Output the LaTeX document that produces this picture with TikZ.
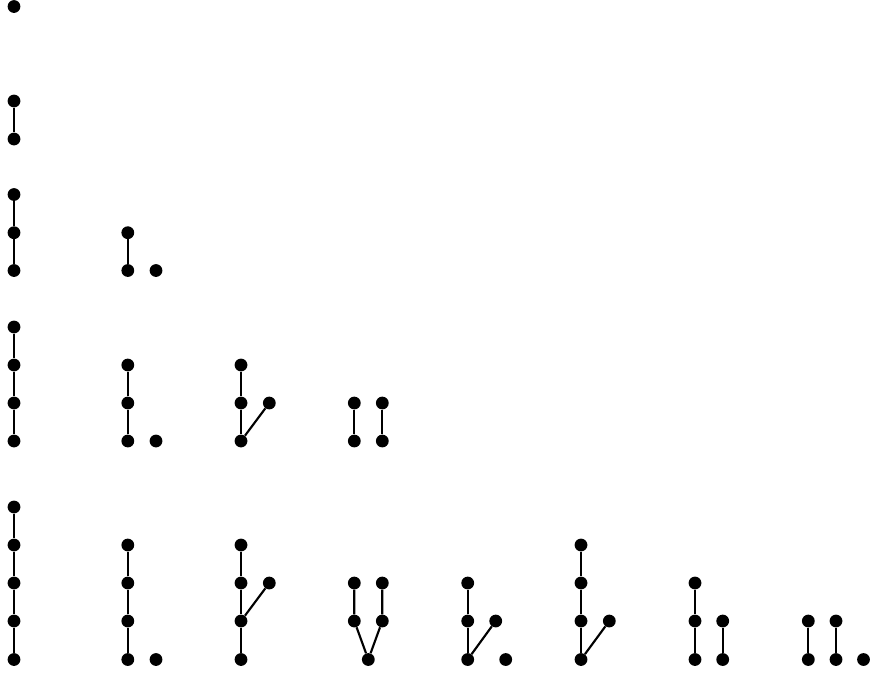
\documentclass[tikz,border=0pt]{standalone}
\begin{document}
\begin{tikzpicture}[x=0.75pt,y=-0.75pt,
  dot/.style={circle,fill=black,inner sep=0pt,minimum size=9.6pt},
  edge/.style={draw=black,line width=1.6pt}]
\useasboundingbox (0,0) rectangle (870,672);
% Row 1
\node[dot] (a1) at (14,6.5) {};
% Row 2
\node[dot] (b1) at (14,101) {};
\node[dot] (b2) at (14,139) {};
\draw[edge] (b1) -- (b2);
% Row 3
\node[dot] (c1) at (14,194.5) {};
\node[dot] (c2) at (14,232.7) {};
\node[dot] (c3) at (14,270.5) {};
\draw[edge] (c1) -- (c2) -- (c3);
\node[dot] (c4) at (127.8,232.7) {};
\node[dot] (c5) at (127.8,270.5) {};
\node[dot] (c6) at (156,270.5) {};
\draw[edge] (c4) -- (c5);
% Row 4
\node[dot] (d1) at (14,327) {};
\node[dot] (d2) at (14,365) {};
\node[dot] (d3) at (14,403) {};
\node[dot] (d4) at (14,441) {};
\draw[edge] (d1) -- (d2) -- (d3) -- (d4);
\node[dot] (d5) at (127.8,365) {};
\node[dot] (d6) at (127.8,403) {};
\node[dot] (d7) at (127.8,441) {};
\node[dot] (d8) at (156,441) {};
\draw[edge] (d5) -- (d6) -- (d7);
\node[dot] (d9) at (241,365) {};
\node[dot] (d10) at (241,403) {};
\node[dot] (d11) at (269.3,403) {};
\node[dot] (d12) at (241,441) {};
\draw[edge] (d9) -- (d10) -- (d12);
\draw[edge] (d12) -- (d11);
\node[dot] (d13) at (354.3,403) {};
\node[dot] (d14) at (354.3,441) {};
\node[dot] (d15) at (382.3,403) {};
\node[dot] (d16) at (382.3,441) {};
\draw[edge] (d13) -- (d14);
\draw[edge] (d15) -- (d16);
% Row 5
\node[dot] (e1) at (14,507) {};
\node[dot] (e2) at (14,545) {};
\node[dot] (e3) at (14,583) {};
\node[dot] (e4) at (14,621) {};
\node[dot] (e5) at (14,659.5) {};
\draw[edge] (e1) -- (e2) -- (e3) -- (e4) -- (e5);
\node[dot] (f1) at (127.8,545) {};
\node[dot] (f2) at (127.8,583) {};
\node[dot] (f3) at (127.8,621) {};
\node[dot] (f4) at (127.8,659.5) {};
\node[dot] (f5) at (156,659.5) {};
\draw[edge] (f1) -- (f2) -- (f3) -- (f4);
\node[dot] (g1) at (241,545) {};
\node[dot] (g2) at (241,583) {};
\node[dot] (g3) at (269.3,583) {};
\node[dot] (g4) at (241,621) {};
\node[dot] (g5) at (241,659.5) {};
\draw[edge] (g1) -- (g2) -- (g4) -- (g5);
\draw[edge] (g4) -- (g3);
\node[dot] (h1) at (354.3,583) {};
\node[dot] (h2) at (354.3,621) {};
\node[dot] (h3) at (382.3,583) {};
\node[dot] (h4) at (382.3,621) {};
\node[dot] (h5) at (368.3,659.5) {};
\draw[edge] (h1) -- (h2) -- (h5);
\draw[edge] (h3) -- (h4) -- (h5);
\node[dot] (i1) at (467.7,583) {};
\node[dot] (i2) at (467.7,621) {};
\node[dot] (i3) at (495.7,621) {};
\node[dot] (i4) at (467.7,659.5) {};
\node[dot] (i5) at (505.7,659.5) {};
\draw[edge] (i1) -- (i2) -- (i4);
\draw[edge] (i4) -- (i3);
\node[dot] (j1) at (581,545) {};
\node[dot] (j2) at (581,583) {};
\node[dot] (j3) at (581,621) {};
\node[dot] (j4) at (609.3,621) {};
\node[dot] (j5) at (581,659.5) {};
\draw[edge] (j1) -- (j2) -- (j3) -- (j5);
\draw[edge] (j5) -- (j4);
\node[dot] (k1) at (695,583) {};
\node[dot] (k2) at (695,621) {};
\node[dot] (k3) at (695,659.5) {};
\node[dot] (k4) at (722.7,621) {};
\node[dot] (k5) at (722.7,659.5) {};
\draw[edge] (k1) -- (k2) -- (k3);
\draw[edge] (k4) -- (k5);
\node[dot] (l1) at (808.3,621) {};
\node[dot] (l2) at (808.3,659.5) {};
\node[dot] (l3) at (836,621) {};
\node[dot] (l4) at (836,659.5) {};
\node[dot] (l5) at (863.5,659.5) {};
\draw[edge] (l1) -- (l2);
\draw[edge] (l3) -- (l4);
\end{tikzpicture}
\end{document}
